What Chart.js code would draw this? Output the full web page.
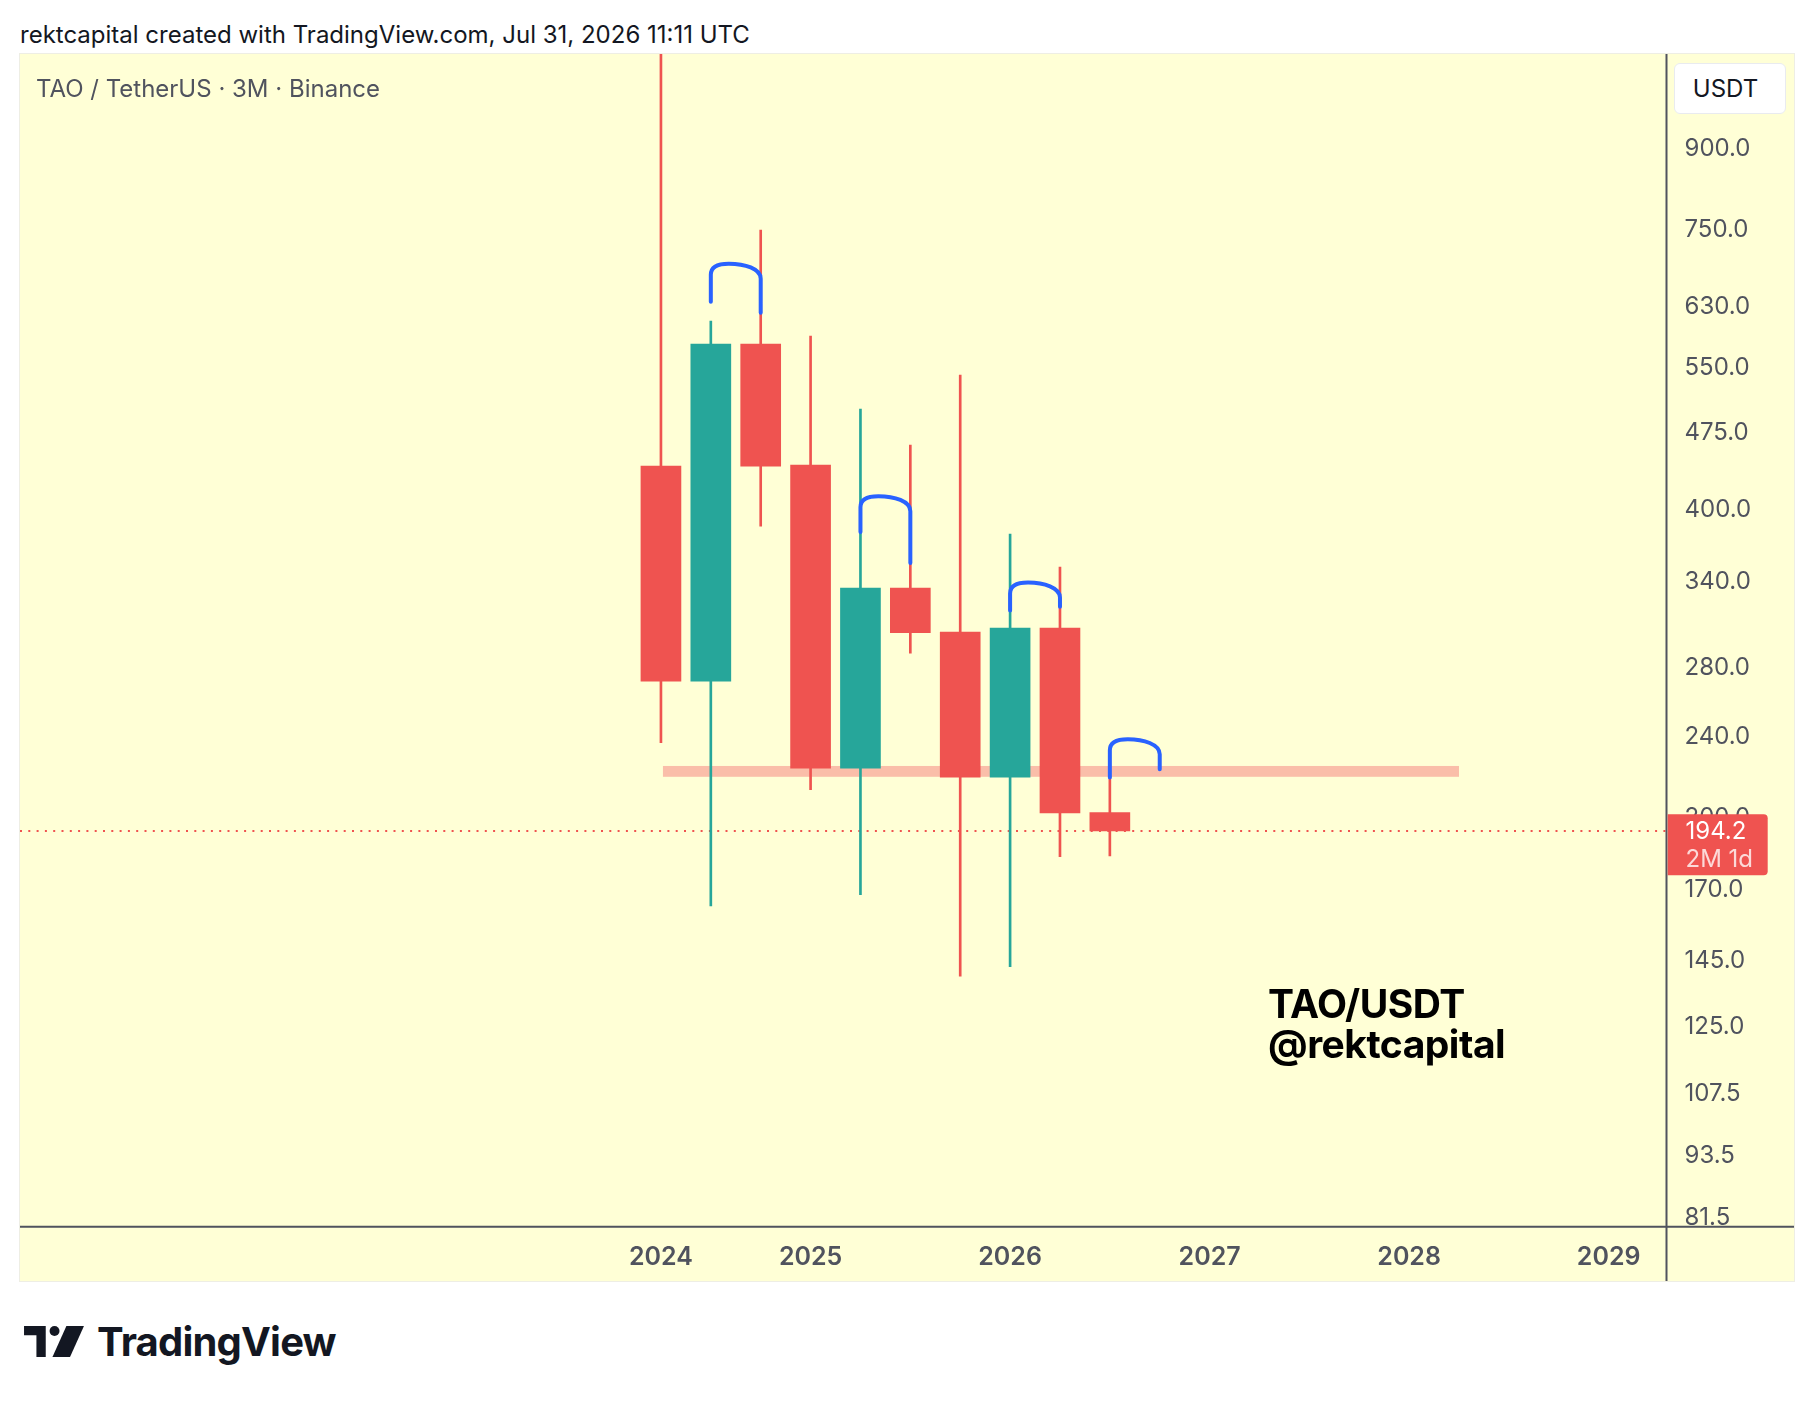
<!DOCTYPE html>
<html>
<head>
<meta charset="utf-8">
<script src="https://cdn.jsdelivr.net/npm/chart.js@4.4.1/dist/chart.umd.min.js"></script>
<style>
  html, body { margin: 0; padding: 0; background: #ffffff; }
  body { width: 1814px; height: 1402px; position: relative; overflow: hidden; font-family: Inter, Roboto, "Noto Sans", sans-serif; }
  #header { position: absolute; left: 20px; top: 19px; font-size: 24px; line-height: 32px; color: #131722; white-space: nowrap; }
  #box { position: absolute; left: 20px; top: 54px; width: 1774px; height: 1227px; background: #FFFFD6; box-shadow: 0 0 0 1px #EEEEE4; }
  #box canvas { position: absolute; left: 0; top: 0; }
  #legend { position: absolute; left: 36px; top: 74px; font-size: 24px; line-height: 30px; color: #50535E; white-space: nowrap; }
  #usdt { position: absolute; left: 1674px; top: 63px; width: 112px; height: 51px; background: #ffffff; border: 1px solid #E9EBEF; border-radius: 6px; box-sizing: border-box; font-size: 24px; line-height: 49px; text-align: center; padding-right: 9px; color: #131722; }
  #mark { position: absolute; left: 1268px; top: 984px; font-size: 39px; line-height: 40px; font-weight: 700; color: #000000; white-space: nowrap; letter-spacing: -0.5px; }
  #logo { position: absolute; left: 24px; top: 1318px; height: 46px; display: flex; align-items: center; }
  #logo span { font-size: 40px; font-weight: 700; color: #131722; margin-left: 13px; letter-spacing: -0.8px; }
</style>
</head>
<body>
<div id="header">rektcapital created with TradingView.com, Jul 31, 2026 11:11 UTC</div>
<div id="box"><canvas id="c" width="1774" height="1227"></canvas></div>
<div id="legend">TAO / TetherUS · 3M · Binance</div>
<div id="usdt">USDT</div>
<div id="mark">TAO/USDT<br>@rektcapital</div>
<div id="logo">
  <svg width="60" height="31" viewBox="0 0 58 30">
    <path d="M0 0 H21 V30 H12 V9 H0 Z" fill="#131722"/>
    <circle cx="29.5" cy="4.8" r="4.8" fill="#131722"/>
    <path d="M41 0 H58 L44.5 30 H27.5 Z" fill="#131722"/>
  </svg>
  <span>TradingView</span>
</div>
<script>
// ---- data (quarterly candles, TAO/USDT 3M) ----
const categories = ['2024 Q2','2024 Q3','2024 Q4','2025 Q1','2025 Q2','2025 Q3','2025 Q4','2026 Q1','2026 Q2','2026 Q3'];
const opens  = [440.8, 271.9, 579.9, 441.8, 223.6, 335.1, 303.5, 219.1, 306.3, 202.4];
const highs  = [1250.0, 610.6, 749.2, 590.4, 501.0, 462.1, 540.9, 378.4, 351.3, 219.5];
const lows   = [236.8, 164.1, 385.2, 213.1, 168.3, 289.5, 140.1, 143.1, 183.3, 183.6];
const closes = [271.9, 579.9, 440.8, 223.6, 335.1, 303.2, 219.1, 306.3, 202.2, 194.2];

const yTickValues = [900, 750, 630, 550, 475, 400, 340, 280, 240, 200, 170, 145, 125, 107.5, 93.5, 81.5];
const xTickIndex  = [0, 3, 7, 11, 15, 19];
const xTickLabels = ['2024', '2025', '2026', '2027', '2028', '2029'];

// support zone (price band) and its time extent (candle index)
const zoneLow = 219.3, zoneHigh = 224.7, zoneFrom = 0.04, zoneTo = 16;

// hand-drawn arcs: left / right candle index, base prices and top price
const arcLeftIdx   = [1, 4, 7, 9];
const arcRightIdx  = [2, 5, 8, 10];
const arcLeftBase  = [637.8, 380.1, 318.7, 219.0];
const arcRightBase = [622.2, 354.5, 321.3, 223.1];
const arcTop       = [694.6, 412.0, 339.3, 238.6];

const lastPrice = 194.2;
const countdown = '2M 1d';

// view range
const xMin = -12.85, xMax = 20.16;
const yMin = 79.8, yMax = 1112.7;

// ---- styles ----
const UP = '#26A69A', DOWN = '#EF5350', BG = '#FFFFD6', AXIS = '#50535E';
const FONT = 'Inter, Roboto, "Noto Sans", sans-serif';
const colors = closes.map((c, i) => c >= opens[i] ? UP : DOWN);

function noPad(s) { s.paddingTop = 0; s.paddingBottom = 0; s.paddingLeft = 0; s.paddingRight = 0; }

const overlay = {
  id: 'overlay',
  beforeDatasetsDraw(chart) {
    const { ctx, chartArea: a, scales: { x, y } } = chart;
    ctx.save();
    ctx.beginPath(); ctx.rect(a.left, a.top, a.right - a.left, a.bottom - a.top); ctx.clip();
    // support zone
    const x0 = x.getPixelForValue(zoneFrom), x1 = x.getPixelForValue(zoneTo);
    const y0 = y.getPixelForValue(zoneHigh), y1 = y.getPixelForValue(zoneLow);
    ctx.fillStyle = '#FABEA9';
    ctx.fillRect(x0, y0, x1 - x0, y1 - y0);
    // last price dotted line
    const py = Math.round(y.getPixelForValue(lastPrice));
    ctx.strokeStyle = DOWN; ctx.lineWidth = 2; ctx.setLineDash([2, 6.3]);
    ctx.beginPath(); ctx.moveTo(a.left, py); ctx.lineTo(a.right, py); ctx.stroke();
    ctx.restore();
  },
  afterDatasetsDraw(chart) {
    const { ctx, scales: { x, y } } = chart;
    ctx.save();
    ctx.strokeStyle = '#2962FF'; ctx.lineWidth = 4; ctx.lineCap = 'round'; ctx.lineJoin = 'round';
    for (let i = 0; i < arcLeftIdx.length; i++) {
      const xl = x.getPixelForValue(arcLeftIdx[i]), xr = x.getPixelForValue(arcRightIdx[i]);
      const yl = y.getPixelForValue(arcLeftBase[i]), yr = y.getPixelForValue(arcRightBase[i]);
      const yt = y.getPixelForValue(arcTop[i]);
      const w = xr - xl;
      ctx.beginPath();
      ctx.moveTo(xl, yl);
      ctx.lineTo(xl, yt + 11);
      ctx.bezierCurveTo(xl, yt + 3, xl + w * 0.14, yt, xl + w * 0.36, yt);
      ctx.bezierCurveTo(xl + w * 0.68, yt, xr, yt + 5, xr, yt + 15);
      ctx.lineTo(xr, yr);
      ctx.stroke();
    }
    ctx.restore();
  },
  afterDraw(chart) {
    const { ctx, chartArea: a, scales: { y }, width, height } = chart;
    ctx.save();
    // cover under the price axis below the time axis line
    ctx.fillStyle = BG;
    ctx.fillRect(a.right, a.bottom, width - a.right, height - a.bottom);
    // axis lines
    ctx.strokeStyle = AXIS; ctx.lineWidth = 2;
    ctx.beginPath();
    ctx.moveTo(a.right, 0); ctx.lineTo(a.right, height);
    ctx.moveTo(0, a.bottom); ctx.lineTo(width, a.bottom);
    ctx.stroke();
    // last price label
    const py = y.getPixelForValue(lastPrice);
    const bx = a.right + 1.2, by = py - 16.7, bw = 100, bh = 61;
    ctx.fillStyle = DOWN;
    ctx.beginPath();
    ctx.moveTo(bx, by); ctx.lineTo(bx + bw - 4, by); ctx.quadraticCurveTo(bx + bw, by, bx + bw, by + 4);
    ctx.lineTo(bx + bw, by + bh - 4); ctx.quadraticCurveTo(bx + bw, by + bh, bx + bw - 4, by + bh);
    ctx.lineTo(bx, by + bh); ctx.closePath(); ctx.fill();
    ctx.font = '24px ' + FONT; ctx.textBaseline = 'middle'; ctx.textAlign = 'left';
    ctx.fillStyle = '#FFFFFF';
    ctx.fillText(lastPrice.toFixed(1), a.right + 19, py + 1);
    ctx.fillStyle = 'rgba(255,255,255,0.78)';
    ctx.fillText(countdown, a.right + 19, py + 29);
    ctx.restore();
  }
};

new Chart(document.getElementById('c'), {
  type: 'bar',
  data: {
    datasets: [
      {
        label: 'wicks',
        data: categories.map((c, i) => ({ x: i, y: [lows[i], highs[i]] })),
        backgroundColor: colors, barThickness: 2, grouped: false, borderWidth: 0, order: 2
      },
      {
        label: 'bodies',
        data: categories.map((c, i) => ({ x: i, y: [opens[i], closes[i]] })),
        backgroundColor: colors, barThickness: 40, grouped: false, borderWidth: 0, order: 1
      }
    ]
  },
  options: {
    responsive: false,
    animation: false,
    devicePixelRatio: 1,
    layout: { padding: 0 },
    plugins: { legend: { display: false }, tooltip: { enabled: false } },
    scales: {
      x: {
        type: 'linear', position: 'bottom', min: xMin, max: xMax, offset: false, bounds: 'data',
        grid: { display: false, drawTicks: false }, border: { display: false },
        afterBuildTicks: s => { s.ticks = xTickIndex.map(v => ({ value: v })); },
        afterFit: s => { s.height = 54.3; noPad(s); },
        ticks: {
          autoSkip: false, maxRotation: 0, padding: 16, color: AXIS,
          font: { family: FONT, size: 25, weight: '600' },
          callback: (v) => { const k = xTickIndex.indexOf(v); return k >= 0 ? xTickLabels[k] : ''; }
        }
      },
      y: {
        type: 'logarithmic', position: 'right', min: yMin, max: yMax, offset: false, bounds: 'data',
        grid: { display: false, drawTicks: false }, border: { display: false },
        afterBuildTicks: s => { s.ticks = yTickValues.map(v => ({ value: v })); },
        afterFit: s => { s.width = 127.5; noPad(s); },
        ticks: {
          autoSkip: false, padding: 18, color: AXIS,
          font: { family: FONT, size: 24 },
          callback: (v) => Number(v).toFixed(1)
        }
      }
    }
  },
  plugins: [overlay]
});
</script>
</body>
</html>
